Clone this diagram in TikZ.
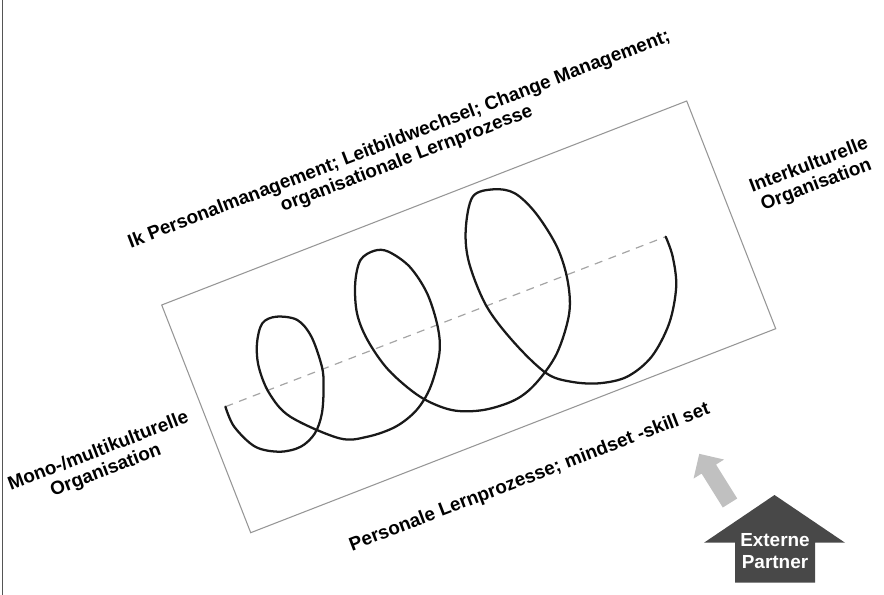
\documentclass[tikz,border=0pt]{standalone}
\usepackage{fontspec}
\setmainfont{Liberation Sans}
\usetikzlibrary{positioning}
\definecolor{frameGray}{RGB}{150,150,150}
\definecolor{axisGray}{RGB}{165,165,165}
\definecolor{coilBlack}{RGB}{25,25,25}
\definecolor{partnerDark}{RGB}{72,72,72}
\definecolor{pushGray}{RGB}{192,192,192}
\definecolor{borderGray}{RGB}{85,85,85}
\begin{document}
\begin{tikzpicture}[x=0.75pt,y=0.75pt,yscale=-1,
    lbl/.style={font=\bfseries\fontsize{14.2}{15.6}\selectfont, align=center, inner sep=0pt, rotate=21},
    plbl/.style={font=\bfseries\fontsize{14.2}{16.5}\selectfont, align=center, inner sep=0pt, text=white}]
\useasboundingbox (0,0) rectangle (884,595);

%Straight Lines: left border
\draw [borderGray, line width=1.3pt] (2.5,0) -- (2.5,595) ;

%Shape: tilted frame
\draw [frameGray, line width=0.8pt] (161.7,305) -- (686.7,101) -- (775.7,328.7) -- (250.7,532.7) -- cycle ;

%Straight Lines: dashed axis
\coordinate (spiralStart) at (225.4,406.7);
\coordinate (spiralEnd) at (665.7,236.7);
\draw [axisGray, line width=0.9pt, dash pattern=on 6pt off 5pt] (spiralStart) -- (spiralEnd) ;

%Curve: spiral
\draw [coilBlack, line width=1.7pt, line cap=round] plot [smooth, tension=0.55] coordinates {
  (spiralStart) (234.2,426.7) (255.2,446.7) (279.8,451.7) (300.8,446.7) (314.9,433.3)
  (321.9,413.3) (323.6,386.7) (321.9,366.7) (311.4,336.7) (297.3,320) (276.3,316.7)
  (262.3,323.3) (257,343.3) (258.7,366.7) (269.3,393.3) (290.3,416.7) (339.4,438.3)
  (367.5,436.7) (395.6,426.7) (416.6,410) (430.6,386.7) (439.4,353.3) (437.7,326.7)
  (427.1,293.3) (409.6,266.7) (388.5,251.7) (374.5,250.7) (360.5,260) (355.2,283.3)
  (357,313.3) (367.5,340) (388.5,370) (420.1,396.7) (451.7,410) (483.3,410)
  (514.8,400) (535.9,383.3) (556.9,353.3) (569.2,313.3) (567.5,280) (556.9,246.7)
  (535.9,213.3) (514.8,193.3) (493.8,189.3) (472.7,196.7) (465.7,230) (469.2,263.3)
  (486.8,306.7) (514.8,343.3) (546.4,373.3) (571,381.7) (599,383.3) (627.1,376.7)
  (651.6,356.7) (669.2,323.3) (676.2,286.7) (672.7,256.7) (spiralEnd) } ;

%Shape: light arrow
\begin{scope}[shift={(730,503)}, rotate=238]
\fill [pushGray] (0,-8.5) -- (40,-8.5) -- (40,-18) -- (58,0) -- (40,18) -- (40,8.5) -- (0,8.5) -- cycle ;
\end{scope}

%Shape: dark arrow
\fill [partnerDark] (704,542.7) -- (774.5,495) -- (845,542.7) -- (815,542.7) -- (815,582.7) -- (735,582.7) -- (735,542.7) -- cycle ;

% Text Node
\node [lbl] (orgLearning) at (403,149.5) {Ik Personalmanagement; Leitbildwechsel; Change Management;\\organisationale Lernprozesse};
% Text Node
\node [lbl] (interOrg) at (812.7,175.6) {Interkulturelle\\Organisation};
% Text Node
\node [lbl] (monoOrg) at (102.2,461.3) {Mono-/multikulturelle\\Organisation};
% Text Node
\node [lbl] (personLearning) at (529.7,477.8) {Personale Lernprozesse; mindset -skill set};
% Text Node
\node [plbl] (partner) at (775,551) {Externe\\Partner};
\end{tikzpicture}
\end{document}
